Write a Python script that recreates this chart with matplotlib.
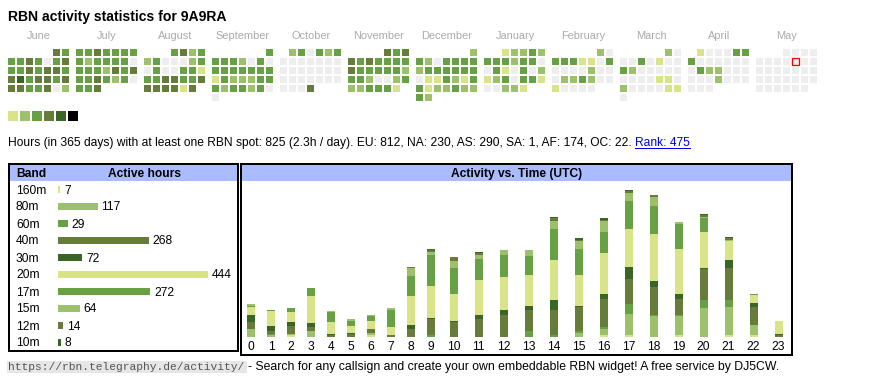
import datetime as dt

import matplotlib
matplotlib.use('Agg')
import matplotlib.pyplot as plt
from matplotlib.patches import Rectangle
from matplotlib.transforms import offset_copy
import numpy as np

plt.rcParams['font.family'] = ['Liberation Sans', 'DejaVu Sans']

W, H = 870, 390
PT = 0.72  # pixel -> point at 100 dpi

# ---------------------------------------------------------------- data
callsign = '9A9RA'
today = dt.date(2025, 5, 9)

month_names = ['June', 'July', 'August', 'September', 'October', 'November',
               'December', 'January', 'February', 'March', 'April', 'May']
month_starts = [(2024, 6), (2024, 7), (2024, 8), (2024, 9), (2024, 10), (2024, 11),
                (2024, 12), (2025, 1), (2025, 2), (2025, 3), (2025, 4), (2025, 5)]

# activity level per day (0 = none, 1..5 = more)
jun = [4, 3,
       3, 3, 4, 3, 0, 3, 4, 3, 3, 4, 3, 4, 4, 3, 4, 5, 3, 4, 4, 3, 4,
       4, 4, 3, 3, 4, 0, 2]
jul = [3, 3, 4, 3, 3, 3, 3, 3, 2, 3, 3, 3, 3, 0, 3, 3, 3, 2, 4, 3, 4,
       3, 3, 4, 3, 2, 3, 0, 3, 3, 4]
aug = [3, 4, 2, 3,
       2, 3, 0, 0, 0, 2, 3, 0, 3, 0, 0, 3, 3, 1, 3, 3, 4, 4, 3, 3, 4,
       4, 4, 4, 4, 1, 4]
sep = [3,
       3, 3, 3, 2, 0, 3, 0, 3, 3, 3, 3, 3, 3, 3, 1, 3, 2, 2, 2, 3, 3,
       3, 2, 3, 3, 2, 3, 0, 0]
oct_ = [2, 3, 0, 3, 2, 3] + [0] * 21 + [0, 0, 0, 4]
nov = [4, 3, 4,
       4, 3, 4, 3, 3, 3, 3, 4, 3, 3, 3, 3, 3, 2, 3, 3, 2, 0, 0, 2, 3,
       2, 2, 3, 3, 3, 1]
dec = [2,
       3, 2, 0, 3, 3, 3, 3, 2, 3, 3, 3, 3, 3, 3, 0, 1, 1, 3, 2, 1, 3,
       3, 1, 2, 2, 3, 2, 2, 3, 2]
jan = [1, 2, 2, 3, 2,
       3, 3, 3, 2, 3, 3, 0, 0, 3, 1, 0, 3, 0, 2, 1, 2, 3, 0, 3, 3, 1,
       0, 0, 2, 2, 1]
feb = [2, 0,
       3, 3, 3, 1, 1, 0, 3, 0, 0, 0, 0, 2, 0, 0, 0, 2, 2, 3, 2, 0, 0,
       1, 0, 0, 0, 0]
mar = [2, 0,
       0, 0, 3, 0, 1, 0, 0, 3, 2, 0, 0, 0, 0, 0, 0, 0, 0, 0, 1, 1, 0,
       2, 0, 0, 0, 0, 1, 1, 0]
apr = [1, 0, 0, 0, 3, 3,
       3, 0, 0, 0, 0, 0, 0, 0, 3, 2, 2, 0, 0, 0, 0, 0, 0, 2, 0, 0, 0,
       0, 0, 0]
may = [0] * 31
day_levels = [jun, jul, aug, sep, oct_, nov, dec, jan, feb, mar, apr, may]

level_colors = ['#eeeeee', '#d9e388', '#9dc16b', '#68a045', '#677c3a', '#3b6527']

total_hours = 825
continents = {'EU': 812, 'NA': 230, 'AS': 290, 'SA': 1, 'AF': 174, 'OC': 22}
rank = 475

bands = ['160m', '80m', '60m', '40m', '30m', '20m', '17m', '15m', '12m', '10m']
band_hours = [7, 117, 29, 268, 72, 444, 272, 64, 14, 8]
band_level = [1, 2, 3, 4, 5, 1, 3, 2, 4, 5]

hours = list(range(24))
h160 = [0, 0, 1, 0, 0, 0, 1, 0, 0, 0, 0, 0, 0, 0, 0, 0, 1, 1, 0, 1, 0, 1, 1, 0]
h80 = [6, 1, 1, 4, 0, 0, 2, 0, 0, 0, 0, 0, 0, 0, 0, 3, 5, 16, 15, 14, 21, 21, 8, 0]
h60 = [0, 1, 0, 0, 0, 0, 0, 0, 0, 1, 0, 0, 0, 4, 1, 1, 1, 7, 1, 1, 6, 5, 0, 0]
h40 = [5, 2, 6, 3, 1, 2, 3, 1, 6, 12, 11, 13, 16, 16, 19, 18, 21, 19, 21, 12, 23, 24, 13, 1]
h30 = [5, 4, 3, 3, 1, 1, 0, 0, 3, 1, 1, 3, 4, 3, 7, 1, 4, 9, 4, 4, 1, 6, 3, 1]
h20 = [6, 11, 7, 20, 9, 5, 6, 6, 21, 24, 20, 26, 24, 23, 30, 23, 30, 28, 35, 33, 27, 14, 6, 10]
h17 = [1, 1, 3, 6, 7, 4, 3, 13, 15, 23, 19, 16, 17, 14, 23, 19, 16, 21, 21, 19, 10, 0, 1, 0]
h15 = [1, 0, 0, 0, 1, 1, 1, 1, 6, 2, 5, 3, 3, 4, 6, 6, 8, 6, 7, 1, 1, 1, 0, 0]
h12 = [0, 0, 0, 0, 0, 0, 0, 0, 1, 1, 3, 1, 0, 0, 2, 1, 1, 1, 1, 0, 1, 1, 0, 0]
h10 = [0, 0, 0, 0, 0, 0, 0, 0, 0, 1, 0, 1, 0, 0, 1, 1, 1, 1, 0, 0, 1, 1, 0, 0]
hourly = [h160, h80, h60, h40, h30, h20, h17, h15, h12, h10]

# ---------------------------------------------------------------- figure
fig = plt.figure(figsize=(W / 100, H / 100), dpi=100)
ax = fig.add_axes([0, 0, 1, 1])
ax.set_xlim(0, W)
ax.set_ylim(H, 0)
ax.axis('off')


def px_axes(x0, y0, x1, y1):
    a = fig.add_axes([x0 / W, 1 - y1 / H, (x1 - x0) / W, (y1 - y0) / H])
    a.axis('off')
    return a


def text_end(t):
    fig.canvas.draw()
    bb = t.get_window_extent()
    return ax.transData.inverted().transform((bb.x1, bb.y0))[0]


ax.text(8, 21, 'RBN activity statistics for ' + callsign, fontsize=14 * PT,
        fontweight='bold', va='baseline')

# calendar heatmap, one 7-column block per month, weeks start on Monday
for m, ((yy, mm), name, levels) in enumerate(zip(month_starts, month_names, day_levels)):
    x0 = 8 + 68 * m
    ax.text(x0 + 31, 39, name, ha='center', va='baseline', color='#aaaaaa',
            fontsize=11 * PT)
    offset = dt.date(yy, mm, 1).weekday()
    for d, lev in enumerate(levels):
        col, row = (offset + d) % 7, (offset + d) // 7
        x, y = x0 + 9 * col, 49 + 9 * row
        ax.add_patch(Rectangle((x, y), 7, 7, facecolor=level_colors[lev], lw=0))
        if dt.date(yy, mm, d + 1) == today:
            ax.add_patch(Rectangle((x - 0.3, y - 0.3), 7.6, 7.6, fill=False,
                                   edgecolor='red', lw=1.3 * PT))

for i, c in enumerate(level_colors[1:] + ['#000000']):
    ax.add_patch(Rectangle((8 + 12 * i, 111), 10, 10, facecolor=c, lw=0))

summary = ('Hours (in 365 days) with at least one RBN spot: {} ({:.1f}h / day). '
           .format(total_hours, total_hours / 365)
           + ', '.join('{}: {}'.format(k, v) for k, v in continents.items()) + '.')
t = ax.text(8, 146, summary, fontsize=12 * PT, va='baseline')
xr = text_end(t) + 3.5
tr = ax.text(xr, 146, 'Rank: {}'.format(rank), fontsize=12 * PT, va='baseline',
             color='#0000ee')
ax.plot([xr, text_end(tr)], [147.6, 147.6], color='#0000ee', lw=1 * PT)

# table frames
hdr = '#aabbff'
ax.add_patch(Rectangle((10, 165), 227, 16, facecolor=hdr, lw=0))
ax.add_patch(Rectangle((242, 165), 549, 16, facecolor=hdr, lw=0))
ax.add_patch(Rectangle((9, 164), 229, 187, fill=False, edgecolor='black', lw=2 * PT))
ax.add_patch(Rectangle((241, 164), 551, 190.5, fill=False, edgecolor='black', lw=2 * PT))
ax.text(16, 177, 'Band', fontsize=12 * PT, fontweight='bold', va='baseline')
ax.text(145, 177, 'Active hours', fontsize=12 * PT, fontweight='bold',
        va='baseline', ha='center')
ax.text(516.5, 177, 'Activity vs. Time (UTC)', fontsize=12 * PT,
        fontweight='bold', va='baseline', ha='center')

# band table
for i, b in enumerate(bands):
    ax.text(16, 193.5 + 17 * i, b, fontsize=12 * PT, va='baseline')

axb = px_axes(58, 180.5, 236, 350.5)
px_per_hour = 150 / 444
axb.barh(range(len(bands)), band_hours, height=7 / 17,
         color=[level_colors[l] for l in band_level])
axb.set_xlim(0, 178 / px_per_hour)
axb.set_ylim(len(bands) - 0.5, -0.5)
lab_tr = offset_copy(axb.transData, fig=fig, x=4, y=-4.5, units='dots')
for i, v in enumerate(band_hours):
    axb.text(v, i, str(v), fontsize=12 * PT, va='baseline', transform=lab_tr)

# activity vs time, column widths follow the label width
widths = np.array([20 if h < 10 else 25 for h in hours])
centers = np.cumsum(widths) - widths / 2
axh = px_axes(241, 182, 791, 336.7)
axh.set_xlim(0, widths.sum())
axh.set_ylim(0, (336.7 - 182) / 1.347)
bottom = np.zeros(len(hours))
for vals, lev in zip(hourly, band_level):
    axh.bar(centers, vals, width=8, bottom=bottom, color=level_colors[lev], lw=0)
    bottom += np.array(vals)
tick_tr = offset_copy(axh.transData, fig=fig, y=-13.5, units='dots')
for c, h in zip(centers, hours):
    axh.text(c, 0, str(h), ha='center', va='baseline', fontsize=12 * PT,
             transform=tick_tr, clip_on=False)

# footer
url = 'https://rbn.telegraphy.de/activity/'
ax.add_patch(Rectangle((7, 361), 240, 11.5, facecolor='#e6e6e6', lw=0))
tu = ax.text(8, 370, url, family='Liberation Mono', fontsize=11.3 * PT,
             color='#555555', va='baseline')
ax.text(text_end(tu) + 4, 370,
        '- Search for any callsign and create your own embeddable RBN widget! '
        'A free service by DJ5CW.', fontsize=12.3 * PT, va='baseline')

fig.savefig('out.png', dpi=100)
